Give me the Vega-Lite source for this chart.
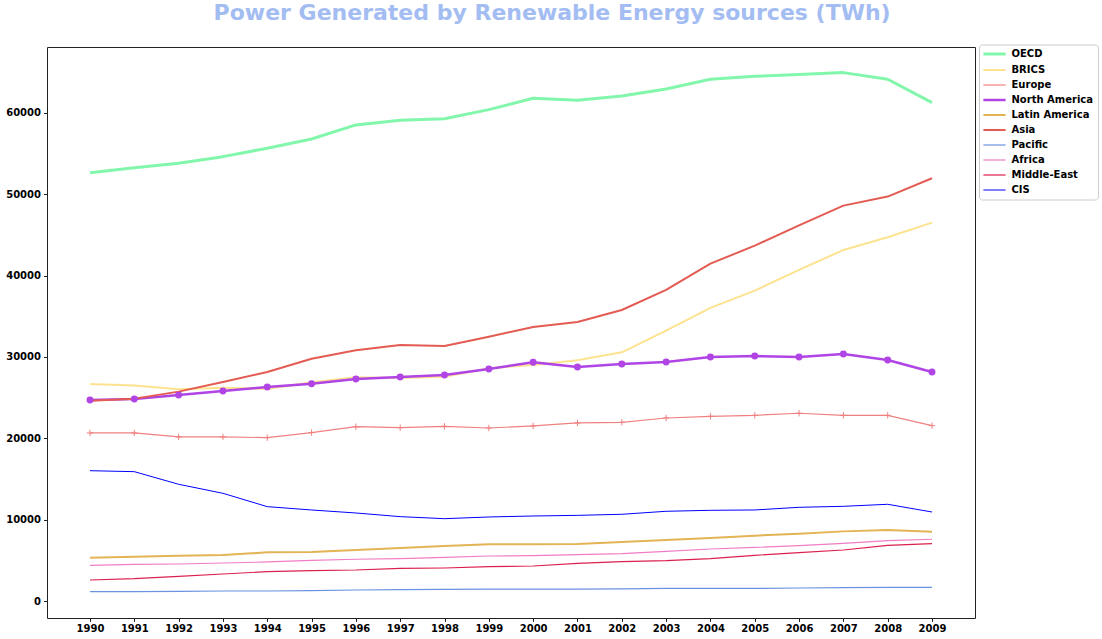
{
  "$schema": "https://vega.github.io/schema/vega-lite/v6.json",
  "width": 928,
  "height": 571,
  "autosize": {"type": "none"},
  "padding": {"left": 47, "top": 47, "right": 127, "bottom": 21},
  "background": "white",
  "title": {
    "text": "Power Generated by Renewable Energy sources (TWh)",
    "font": "DejaVu Sans",
    "fontSize": 22,
    "fontWeight": "bold",
    "color": "#a3bdf2",
    "anchor": "middle",
    "frame": "bounds",
    "offset": 19
  },
  "config": {
    "view": {"stroke": "#222222", "strokeWidth": 1},
    "axis": {
      "domain": false,
      "grid": false,
      "ticks": true,
      "tickColor": "#222222",
      "tickSize": 3.5,
      "labelFont": "DejaVu Sans",
      "labelFontSize": 10,
      "labelFontWeight": "bold",
      "labelColor": "#000000",
      "title": null
    },
    "legend": {
      "orient": "none",
      "legendX": 932,
      "legendY": -2.5,
      "title": null,
      "symbolType": "M-3.7,0L3.7,0",
      "symbolSize": 36,
      "symbolOffset": 6,
      "labelFont": "DejaVu Sans",
      "labelFontSize": 10,
      "labelFontWeight": "bold",
      "labelColor": "#000000",
      "labelOffset": 12,
      "rowPadding": 5,
      "padding": 4.5,
      "strokeColor": "#cccccc",
      "fillColor": "white",
      "cornerRadius": 3
    }
  },
  "data": {
    "values": [
      {"year":1990,"region":"OECD","value":52640},{"year":1991,"region":"OECD","value":53270},{"year":1992,"region":"OECD","value":53810},{"year":1993,"region":"OECD","value":54630},{"year":1994,"region":"OECD","value":55660},{"year":1995,"region":"OECD","value":56800},{"year":1996,"region":"OECD","value":58530},{"year":1997,"region":"OECD","value":59100},{"year":1998,"region":"OECD","value":59300},{"year":1999,"region":"OECD","value":60410},{"year":2000,"region":"OECD","value":61810},{"year":2001,"region":"OECD","value":61560},{"year":2002,"region":"OECD","value":62080},{"year":2003,"region":"OECD","value":62950},{"year":2004,"region":"OECD","value":64140},{"year":2005,"region":"OECD","value":64510},{"year":2006,"region":"OECD","value":64720},{"year":2007,"region":"OECD","value":64960},{"year":2008,"region":"OECD","value":64140},{"year":2009,"region":"OECD","value":61270},
      {"year":1990,"region":"BRICS","value":26680},{"year":1991,"region":"BRICS","value":26480},{"year":1992,"region":"BRICS","value":26030},{"year":1993,"region":"BRICS","value":26230},{"year":1994,"region":"BRICS","value":26070},{"year":1995,"region":"BRICS","value":26890},{"year":1996,"region":"BRICS","value":27500},{"year":1997,"region":"BRICS","value":27420},{"year":1998,"region":"BRICS","value":27580},{"year":1999,"region":"BRICS","value":28610},{"year":2000,"region":"BRICS","value":29020},{"year":2001,"region":"BRICS","value":29590},{"year":2002,"region":"BRICS","value":30570},{"year":2003,"region":"BRICS","value":33250},{"year":2004,"region":"BRICS","value":36030},{"year":2005,"region":"BRICS","value":38160},{"year":2006,"region":"BRICS","value":40700},{"year":2007,"region":"BRICS","value":43160},{"year":2008,"region":"BRICS","value":44720},{"year":2009,"region":"BRICS","value":46520},
      {"year":1990,"region":"Europe","value":20660},{"year":1991,"region":"Europe","value":20660},{"year":1992,"region":"Europe","value":20170},{"year":1993,"region":"Europe","value":20170},{"year":1994,"region":"Europe","value":20080},{"year":1995,"region":"Europe","value":20700},{"year":1996,"region":"Europe","value":21430},{"year":1997,"region":"Europe","value":21310},{"year":1998,"region":"Europe","value":21470},{"year":1999,"region":"Europe","value":21270},{"year":2000,"region":"Europe","value":21520},{"year":2001,"region":"Europe","value":21890},{"year":2002,"region":"Europe","value":21970},{"year":2003,"region":"Europe","value":22500},{"year":2004,"region":"Europe","value":22710},{"year":2005,"region":"Europe","value":22830},{"year":2006,"region":"Europe","value":23080},{"year":2007,"region":"Europe","value":22830},{"year":2008,"region":"Europe","value":22830},{"year":2009,"region":"Europe","value":21560},
      {"year":1990,"region":"North America","value":24710},{"year":1991,"region":"North America","value":24840},{"year":1992,"region":"North America","value":25330},{"year":1993,"region":"North America","value":25820},{"year":1994,"region":"North America","value":26310},{"year":1995,"region":"North America","value":26720},{"year":1996,"region":"North America","value":27300},{"year":1997,"region":"North America","value":27540},{"year":1998,"region":"North America","value":27790},{"year":1999,"region":"North America","value":28530},{"year":2000,"region":"North America","value":29350},{"year":2001,"region":"North America","value":28770},{"year":2002,"region":"North America","value":29140},{"year":2003,"region":"North America","value":29390},{"year":2004,"region":"North America","value":30000},{"year":2005,"region":"North America","value":30120},{"year":2006,"region":"North America","value":30000},{"year":2007,"region":"North America","value":30370},{"year":2008,"region":"North America","value":29630},{"year":2009,"region":"North America","value":28160},
      {"year":1990,"region":"Latin America","value":5330},{"year":1991,"region":"Latin America","value":5450},{"year":1992,"region":"Latin America","value":5570},{"year":1993,"region":"Latin America","value":5660},{"year":1994,"region":"Latin America","value":5980},{"year":1995,"region":"Latin America","value":6020},{"year":1996,"region":"Latin America","value":6270},{"year":1997,"region":"Latin America","value":6520},{"year":1998,"region":"Latin America","value":6760},{"year":1999,"region":"Latin America","value":6970},{"year":2000,"region":"Latin America","value":6970},{"year":2001,"region":"Latin America","value":7010},{"year":2002,"region":"Latin America","value":7250},{"year":2003,"region":"Latin America","value":7500},{"year":2004,"region":"Latin America","value":7750},{"year":2005,"region":"Latin America","value":8030},{"year":2006,"region":"Latin America","value":8280},{"year":2007,"region":"Latin America","value":8560},{"year":2008,"region":"Latin America","value":8730},{"year":2009,"region":"Latin America","value":8520},
      {"year":1990,"region":"Asia","value":24630},{"year":1991,"region":"Asia","value":24880},{"year":1992,"region":"Asia","value":25740},{"year":1993,"region":"Asia","value":26930},{"year":1994,"region":"Asia","value":28160},{"year":1995,"region":"Asia","value":29790},{"year":1996,"region":"Asia","value":30820},{"year":1997,"region":"Asia","value":31480},{"year":1998,"region":"Asia","value":31350},{"year":1999,"region":"Asia","value":32500},{"year":2000,"region":"Asia","value":33690},{"year":2001,"region":"Asia","value":34300},{"year":2002,"region":"Asia","value":35780},{"year":2003,"region":"Asia","value":38240},{"year":2004,"region":"Asia","value":41470},{"year":2005,"region":"Asia","value":43690},{"year":2006,"region":"Asia","value":46190},{"year":2007,"region":"Asia","value":48610},{"year":2008,"region":"Asia","value":49720},{"year":2009,"region":"Asia","value":51970},
      {"year":1990,"region":"Pacific","value":1150},{"year":1991,"region":"Pacific","value":1150},{"year":1992,"region":"Pacific","value":1190},{"year":1993,"region":"Pacific","value":1230},{"year":1994,"region":"Pacific","value":1230},{"year":1995,"region":"Pacific","value":1270},{"year":1996,"region":"Pacific","value":1350},{"year":1997,"region":"Pacific","value":1390},{"year":1998,"region":"Pacific","value":1430},{"year":1999,"region":"Pacific","value":1470},{"year":2000,"region":"Pacific","value":1470},{"year":2001,"region":"Pacific","value":1470},{"year":2002,"region":"Pacific","value":1500},{"year":2003,"region":"Pacific","value":1550},{"year":2004,"region":"Pacific","value":1550},{"year":2005,"region":"Pacific","value":1550},{"year":2006,"region":"Pacific","value":1600},{"year":2007,"region":"Pacific","value":1640},{"year":2008,"region":"Pacific","value":1680},{"year":2009,"region":"Pacific","value":1680},
      {"year":1990,"region":"Africa","value":4390},{"year":1991,"region":"Africa","value":4510},{"year":1992,"region":"Africa","value":4550},{"year":1993,"region":"Africa","value":4670},{"year":1994,"region":"Africa","value":4800},{"year":1995,"region":"Africa","value":5000},{"year":1996,"region":"Africa","value":5130},{"year":1997,"region":"Africa","value":5210},{"year":1998,"region":"Africa","value":5370},{"year":1999,"region":"Africa","value":5530},{"year":2000,"region":"Africa","value":5570},{"year":2001,"region":"Africa","value":5700},{"year":2002,"region":"Africa","value":5820},{"year":2003,"region":"Africa","value":6110},{"year":2004,"region":"Africa","value":6390},{"year":2005,"region":"Africa","value":6600},{"year":2006,"region":"Africa","value":6800},{"year":2007,"region":"Africa","value":7090},{"year":2008,"region":"Africa","value":7420},{"year":2009,"region":"Africa","value":7590},
      {"year":1990,"region":"Middle-East","value":2580},{"year":1991,"region":"Middle-East","value":2740},{"year":1992,"region":"Middle-East","value":3030},{"year":1993,"region":"Middle-East","value":3320},{"year":1994,"region":"Middle-East","value":3610},{"year":1995,"region":"Middle-East","value":3730},{"year":1996,"region":"Middle-East","value":3810},{"year":1997,"region":"Middle-East","value":4020},{"year":1998,"region":"Middle-East","value":4060},{"year":1999,"region":"Middle-East","value":4220},{"year":2000,"region":"Middle-East","value":4300},{"year":2001,"region":"Middle-East","value":4630},{"year":2002,"region":"Middle-East","value":4840},{"year":2003,"region":"Middle-East","value":4960},{"year":2004,"region":"Middle-East","value":5210},{"year":2005,"region":"Middle-East","value":5620},{"year":2006,"region":"Middle-East","value":5940},{"year":2007,"region":"Middle-East","value":6270},{"year":2008,"region":"Middle-East","value":6850},{"year":2009,"region":"Middle-East","value":7050},
      {"year":1990,"region":"CIS","value":16020},{"year":1991,"region":"CIS","value":15900},{"year":1992,"region":"CIS","value":14350},{"year":1993,"region":"CIS","value":13240},{"year":1994,"region":"CIS","value":11600},{"year":1995,"region":"CIS","value":11190},{"year":1996,"region":"CIS","value":10820},{"year":1997,"region":"CIS","value":10370},{"year":1998,"region":"CIS","value":10120},{"year":1999,"region":"CIS","value":10330},{"year":2000,"region":"CIS","value":10450},{"year":2001,"region":"CIS","value":10530},{"year":2002,"region":"CIS","value":10660},{"year":2003,"region":"CIS","value":11030},{"year":2004,"region":"CIS","value":11150},{"year":2005,"region":"CIS","value":11190},{"year":2006,"region":"CIS","value":11520},{"year":2007,"region":"CIS","value":11640},{"year":2008,"region":"CIS","value":11890},{"year":2009,"region":"CIS","value":10940}
    ]
  },
  "encoding": {
    "x": {
      "field": "year",
      "type": "quantitative",
      "scale": {"domain": [1989.03, 2009.97], "nice": false, "zero": false},
      "axis": {"values": [1990,1991,1992,1993,1994,1995,1996,1997,1998,1999,2000,2001,2002,2003,2004,2005,2006,2007,2008,2009], "format": "d", "labelPadding": 2, "labelFlush": false}
    },
    "y": {
      "field": "value",
      "type": "quantitative",
      "scale": {"domain": [-2090, 68110], "nice": false, "zero": false},
      "axis": {"values": [0,10000,20000,30000,40000,50000,60000], "format": "d", "labelPadding": 3}
    }
  },
  "layer": [
    {
      "mark": {"type": "line", "strokeCap": "butt", "strokeJoin": "round"},
      "encoding": {
        "color": {
          "field": "region",
          "type": "nominal",
          "sort": ["OECD","BRICS","Europe","North America","Latin America","Asia","Pacific","Africa","Middle-East","CIS"],
          "scale": {
            "domain": ["OECD","BRICS","Europe","North America","Latin America","Asia","Pacific","Africa","Middle-East","CIS"],
            "range": ["#82f7ab","#fde28f","#f08080","#b044e4","#e3b354","#e35b52","#6a93e0","#f07cc4","#dc1f4d","#0000ff"]
          }
        },
        "strokeWidth": {
          "field": "region",
          "type": "nominal",
          "sort": ["OECD","BRICS","Europe","North America","Latin America","Asia","Pacific","Africa","Middle-East","CIS"],
          "scale": {
            "type": "ordinal",
            "domain": ["OECD","BRICS","Europe","North America","Latin America","Asia","Pacific","Africa","Middle-East","CIS"],
            "range": [3,2,1.2,2.5,2,2,1.2,1.2,1.2,1]
          }
        }
      }
    },
    {
      "transform": [{"filter": "datum.region === 'Europe'"}],
      "mark": {"type": "point", "shape": "M-1,0L1,0M0,-1L0,1", "size": 40, "filled": false, "stroke": "#f08080", "strokeWidth": 1, "opacity": 1}
    },
    {
      "transform": [{"filter": "datum.region === 'North America'"}],
      "mark": {"type": "point", "shape": "circle", "size": 48, "filled": true, "color": "#b044e4", "opacity": 1}
    }
  ]
}
